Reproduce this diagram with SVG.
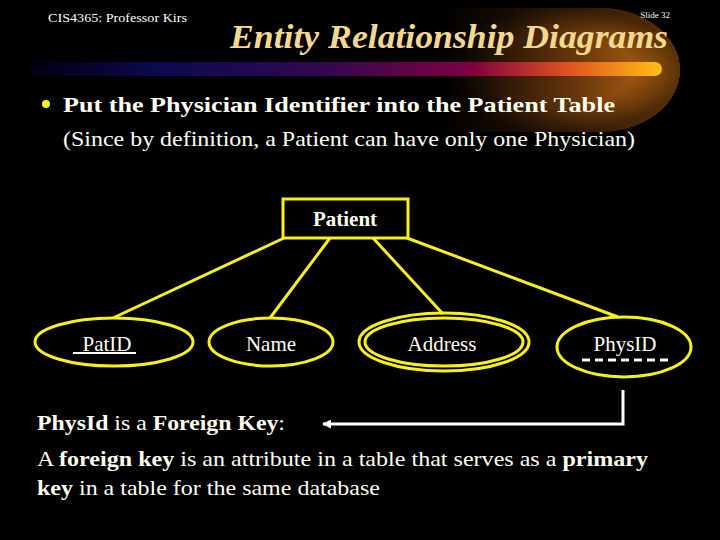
<svg xmlns="http://www.w3.org/2000/svg" width="720" height="540" viewBox="0 0 720 540">
<defs>
<linearGradient id="bar" x1="0" y1="0" x2="1" y2="0">
<stop offset="0" stop-color="#000010"/>
<stop offset="0.2" stop-color="#0a0a50"/>
<stop offset="0.45" stop-color="#300850"/>
<stop offset="0.7" stop-color="#800040"/>
<stop offset="0.85" stop-color="#e05020"/>
<stop offset="1" stop-color="#ffc010"/>
</linearGradient>
<linearGradient id="glow" x1="0" y1="0" x2="1" y2="0">
<stop offset="0" stop-color="#000000"/>
<stop offset="0.25" stop-color="#2a1606"/>
<stop offset="0.6" stop-color="#6e3a0c"/>
<stop offset="0.9" stop-color="#b06010"/>
<stop offset="1" stop-color="#c87010"/>
</linearGradient>
<radialGradient id="shade" cx="0.5" cy="0.5" r="0.5">
<stop offset="0.6" stop-color="#000" stop-opacity="0"/>
<stop offset="1" stop-color="#000" stop-opacity="0.55"/>
</radialGradient>
<marker id="arr" viewBox="0 0 10 10" refX="9" refY="5" markerWidth="3" markerHeight="3" orient="auto">
<path d="M0,0 L10,5 L0,10 z" fill="#ffffff"/>
</marker>
<style>
.t{font-family:"Liberation Serif","Times New Roman",serif;fill:#fffff0}
.b{font-weight:bold}
.ent{fill:none;stroke:#f5f01e;stroke-width:3}
.lnk{stroke:#f5f01e;stroke-width:3;fill:none}
</style>
</defs>
<rect width="720" height="540" fill="#000"/>
<g id="header">
<path d="M440,8 H600 A80,62 0 0 1 600,132 H440 z" fill="url(#glow)"/>
<path d="M440,8 H600 A80,62 0 0 1 600,132 H440 z" fill="url(#shade)"/>
<path d="M30,62 H655 A7,7 0 0 1 655,76 H30 z" fill="url(#bar)"/>
<text x="48" y="22" class="t" font-size="13" textLength="139" lengthAdjust="spacingAndGlyphs">CIS4365: Professor Kirs</text>
<text x="670" y="18" class="t" font-size="9" text-anchor="end">Slide 32</text>
<text x="230" y="48" font-family="Liberation Serif,serif" font-weight="bold" font-style="italic" font-size="34" fill="#f5d890" textLength="438" lengthAdjust="spacingAndGlyphs">Entity Relationship Diagrams</text>
</g>
<g id="bullet">
<circle cx="46" cy="104" r="4" fill="#f5f01e"/>
<text x="63" y="112" class="t b" font-size="22" textLength="552" lengthAdjust="spacingAndGlyphs">Put the Physician Identifier into the Patient Table</text>
<text x="63" y="146" class="t" font-size="22" textLength="572" lengthAdjust="spacingAndGlyphs">(Since by definition, a Patient can have only one Physician)</text>
</g>
<g id="connectors">
<line class="lnk" x1="284" y1="238" x2="113" y2="318"/>
<line class="lnk" x1="330" y1="238" x2="270" y2="318"/>
<line class="lnk" x1="373" y1="238" x2="443" y2="314"/>
<line class="lnk" x1="407" y1="238" x2="618" y2="317"/>
<polyline points="623,390 623,424 323,424" fill="none" stroke="#ffffff" stroke-width="3" marker-end="url(#arr)"/>
</g>
<g id="patient">
<rect x="283" y="199" width="125" height="39" fill="#000" class="ent"/>
<text x="345" y="226" class="t b" font-size="21" text-anchor="middle">Patient</text>
</g>
<g id="patid">
<ellipse class="ent" cx="114" cy="342" rx="79" ry="24"/>
<text x="107" y="351" class="t" font-size="21" text-anchor="middle">PatID</text>
<line x1="73" y1="353" x2="136" y2="353" stroke="#fffff0" stroke-width="2"/>
</g>
<g id="name">
<ellipse class="ent" cx="271" cy="342" rx="62" ry="24"/>
<text x="271" y="351" class="t" font-size="21" text-anchor="middle">Name</text>
</g>
<g id="address">
<ellipse class="ent" cx="444" cy="342" rx="85" ry="29"/>
<ellipse class="ent" cx="444" cy="342" rx="79" ry="24"/>
<text x="442" y="351" class="t" font-size="21" text-anchor="middle">Address</text>
</g>
<g id="physid">
<ellipse class="ent" cx="624" cy="347" rx="67" ry="30"/>
<text x="625" y="351" class="t" font-size="21" text-anchor="middle">PhysID</text>
<line x1="582" y1="360" x2="672" y2="360" stroke="#fffff0" stroke-width="3" stroke-dasharray="8,5"/>
</g>
<g id="notes">
<text x="37" y="430" class="t" font-size="22" textLength="248" lengthAdjust="spacingAndGlyphs"><tspan class="b">PhysId</tspan> is a <tspan class="b">Foreign Key</tspan>:</text>
<text x="37" y="466" class="t" font-size="22" textLength="611" lengthAdjust="spacingAndGlyphs">A <tspan class="b">foreign key</tspan> is an attribute in a table that serves as a <tspan class="b">primary</tspan></text>
<text x="37" y="495" class="t" font-size="22" textLength="343" lengthAdjust="spacingAndGlyphs"><tspan class="b">key</tspan> in a table for the same database</text>
</g>
</svg>
